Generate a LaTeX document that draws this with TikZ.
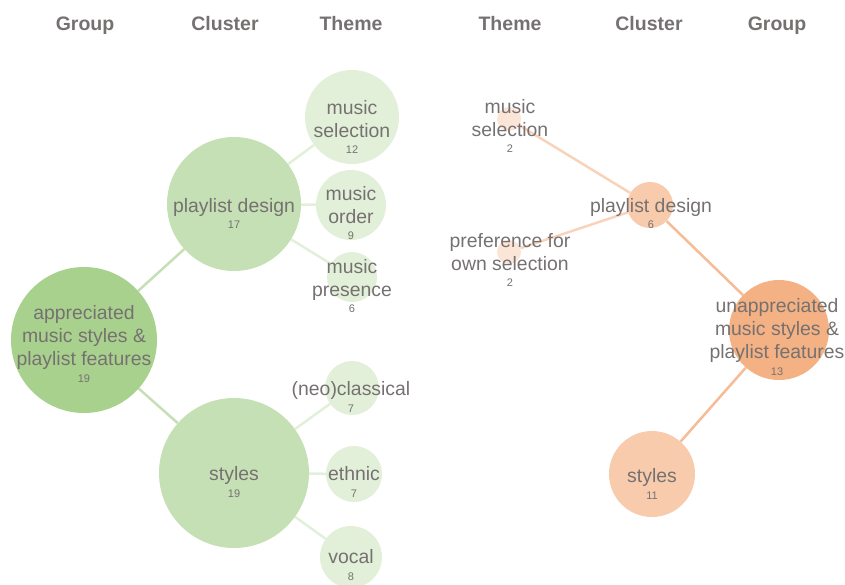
\documentclass[tikz,border=0pt]{standalone}
\usepackage{fontspec}
\setmainfont{Liberation Sans}
\usetikzlibrary{backgrounds}
\definecolor{txtc}{HTML}{767171}
\definecolor{gG}{HTML}{A9D18E}
\definecolor{gC}{HTML}{C5E0B4}
\definecolor{gT}{HTML}{E2F0D9}
\definecolor{oG}{HTML}{F4B183}
\definecolor{oC}{HTML}{F8CBAD}
\definecolor{oT}{HTML}{FBE5D6}
\definecolor{oE}{HTML}{F9D3B9}
\definecolor{oE2}{HTML}{F5BC96}
\tikzset{
  bub/.style={circle, inner sep=0pt, draw=none},
  lbl/.style={text=txtc, font=\fontsize{19.4}{23}\selectfont, align=center, inner sep=0pt, text depth=4.5pt},
  num/.style={text=txtc, font=\fontsize{11}{13}\selectfont, inner sep=0pt, anchor=north},
  hdr/.style={text=txtc, font=\fontsize{19.5}{23}\selectfont\bfseries, inner sep=0pt, anchor=base},
  edge/.style={line width=2.5pt}
}
\begin{document}
\begin{tikzpicture}[x=1pt,y=-1pt]
\useasboundingbox (0,0) rectangle (845,584);
% headers
\node[hdr] (h1) at (85,30) {Group};
\node[hdr] (h2) at (225,30) {Cluster};
\node[hdr] (h3) at (351,30) {Theme};
\node[hdr] (h4) at (510,30) {Theme};
\node[hdr] (h5) at (649,30) {Cluster};
\node[hdr] (h6) at (777,30) {Group};
% left circles
\node[bub, fill=gG, minimum size=146pt] (G1) at (84,340) {};
\node[bub, fill=gC, minimum size=134pt] (C1) at (234,204) {};
\node[bub, fill=gC, minimum size=150pt] (C2) at (234,473) {};
\node[bub, fill=gT, minimum size=94pt] (T1) at (352,117) {};
\node[bub, fill=gT, minimum size=70pt] (T2) at (351,205) {};
\node[bub, fill=gT, minimum size=50pt] (T3) at (352,277) {};
\node[bub, fill=gT, minimum size=54pt] (T4) at (352,388) {};
\node[bub, fill=gT, minimum size=56pt] (T5) at (354,474) {};
\node[bub, fill=gT, minimum size=62pt] (T6) at (351,557) {};
% right circles
\node[bub, fill=oT, minimum size=24pt] (RT1) at (509,119) {};
\node[bub, fill=oT, minimum size=24pt] (RT2) at (509,252) {};
\node[bub, fill=oC, minimum size=46pt] (RC1) at (650,205) {};
\node[bub, fill=oG, minimum size=100pt] (RG) at (779,330) {};
\node[bub, fill=oC, minimum size=86pt] (RC2) at (652,474) {};
% edges
\begin{scope}[on background layer]
\draw[edge, gC] (G1) -- (C1);
\draw[edge, gC] (G1) -- (C2);
\draw[edge, gT] (C1) -- (T1);
\draw[edge, gT] (C1) -- (T2);
\draw[edge, gT] (C1) -- (T3);
\draw[edge, gT] (C2) -- (T4);
\draw[edge, gT] (C2) -- (T5);
\draw[edge, gT] (C2) -- (T6);
\draw[edge, oE] (RT1) -- (RC1);
\draw[edge, oE] (RT2) -- (RC1);
\draw[edge, oE2] (RC1) -- (RG);
\draw[edge, oE2] (RG) -- (RC2);
\end{scope}
% labels left
\node[lbl] (G1t) at (84,338) {appreciated\\music styles \&\\playlist features};
\node[num] (G1n) at ([yshift=-4pt]G1t.south) {19};
\node[lbl] (C1t) at (234,208) {playlist design};
\node[num] (C1n) at ([yshift=-3pt]C1t.south) {17};
\node[lbl] (C2t) at (234,476) {styles};
\node[num] (C2n) at ([yshift=-4pt]C2t.south) {19};
\node[lbl] (T1t) at (352,121) {music\\selection};
\node[num] (T1n) at ([yshift=-4pt]T1t.south) {12};
\node[lbl] (T2t) at (351,207) {music\\order};
\node[num] (T2n) at ([yshift=-4pt]T2t.south) {9};
\node[lbl] (T3t) at (352,280) {music\\presence};
\node[num] (T3n) at ([yshift=-4pt]T3t.south) {6};
\node[lbl] (T4t) at (351,391) {(neo)classical};
\node[num] (T4n) at ([yshift=-4pt]T4t.south) {7};
\node[lbl] (T5t) at (354,476) {ethnic};
\node[num] (T5n) at ([yshift=-4pt]T5t.south) {7};
\node[lbl] (T6t) at (351,559) {vocal};
\node[num] (T6n) at ([yshift=-4pt]T6t.south) {8};
% labels right
\node[lbl] (RT1t) at (510,120) {music\\selection};
\node[num] (RT1n) at ([yshift=-4pt]RT1t.south) {2};
\node[lbl] (RT2t) at (510,254) {preference for\\own selection};
\node[num] (RT2n) at ([yshift=-4pt]RT2t.south) {2};
\node[lbl] (RC1t) at (651,208) {playlist design};
\node[num] (RC1n) at ([yshift=-3pt]RC1t.south) {6};
\node[lbl] (RGt) at (777,331) {unappreciated\\music styles \&\\playlist features};
\node[num] (RGn) at ([yshift=-4pt]RGt.south) {13};
\node[lbl] (RC2t) at (652,478) {styles};
\node[num] (RC2n) at ([yshift=-4pt]RC2t.south) {11};
\end{tikzpicture}
\end{document}
